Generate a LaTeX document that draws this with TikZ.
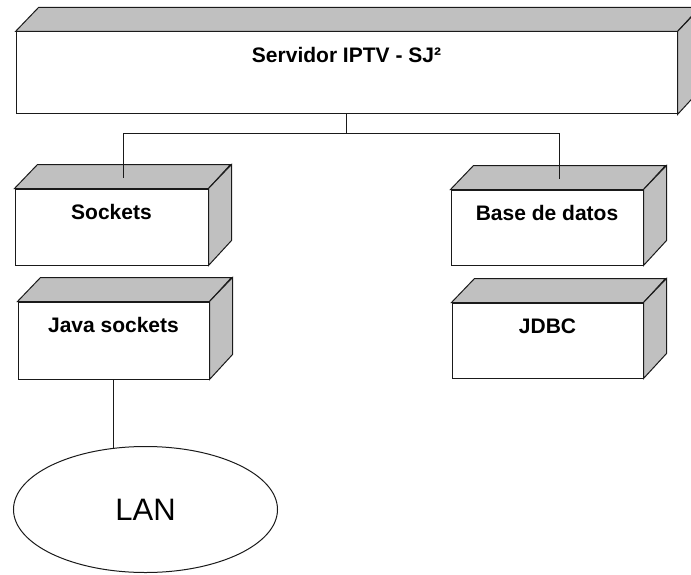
\documentclass[tikz,border=0pt]{standalone}
\usepackage{fontspec}
\setmainfont{Liberation Sans}
\usetikzlibrary{calc,shapes.geometric}

\definecolor{facegray}{HTML}{C0C0C0}
\definecolor{edge}{HTML}{1A1A1A}

\tikzset{
  frontface/.style={draw=edge, fill=white, rectangle, inner sep=0pt, line width=0.75pt},
  sideface/.style={draw=edge, fill=facegray, line width=0.75pt, line join=miter},
  lbl/.style={font=\fontsize{15.75}{18}\selectfont\bfseries, inner sep=0pt, anchor=base},
  wire/.style={draw=edge, line width=0.75pt},
}

% A 3D block: name, left, top, right, bottom (pixel units, y downward)
\newcommand\depthbox[5]{%
  \node[frontface, minimum width={(#4-#2)*0.75}, minimum height={(#5-#3)*0.75}]
    (#1) at ({(#2+#4)/2},{(#3+#5)/2}) {};
  \path[sideface] (#1.north west) -- ++(23,-24) -- ++({#4-#2},0) -- (#1.north east) -- cycle;
  \path[sideface] (#1.north east) -- ++(23,-24) -- ++(0,{#5-#3}) -- (#1.south east) -- cycle;
}

\begin{document}
\begin{tikzpicture}[x=0.75pt, y=-0.75pt]
  \clip (0,0) rectangle (691,574);

  % blocks
  \depthbox{srv}{16}{32}{677}{114}
  \depthbox{sock}{15}{189}{208}{265}
  \depthbox{java}{18}{302}{209}{379}
  \depthbox{base}{451}{190}{643}{265}
  \depthbox{jdbc}{452}{303}{643}{378}

  % block titles
  \node[lbl] (srvL)  at ($(srv.north)+(0,31)$)  {Servidor IPTV - SJ²};
  \node[lbl] (sockL) at ($(sock.north)+(0,30.5)$) {Sockets};
  \node[lbl] (javaL) at ($(java.north)+(0,30.5)$) {Java sockets};
  \node[lbl] (baseL) at ($(base.north)+(0,30.5)$) {Base de datos};
  \node[lbl] (jdbcL) at ($(jdbc.north)+(0,30.5)$) {JDBC};

  % network cloud
  \node[ellipse, draw=edge, fill=white, line width=0.75pt, inner sep=0pt,
        minimum width={264*0.75}, minimum height={126*0.75},
        font=\fontsize{23.25}{26}\selectfont] (lan) at (145.5,509.5) {LAN};

  % connectors
  \coordinate (hub) at ($(srv.south)+(0,19)$);
  \coordinate (sockTop) at ($(sock.north)+(12,-11)$);
  \coordinate (baseTop) at ($(base.north)+(12,-11)$);
  \draw[wire] (srv.south) -- (hub);
  \draw[wire] (hub) -| (sockTop);
  \draw[wire] (hub) -| (baseTop);
  \draw[wire] (java.south) -- (java.south |- lan.117);
\end{tikzpicture}
\end{document}
